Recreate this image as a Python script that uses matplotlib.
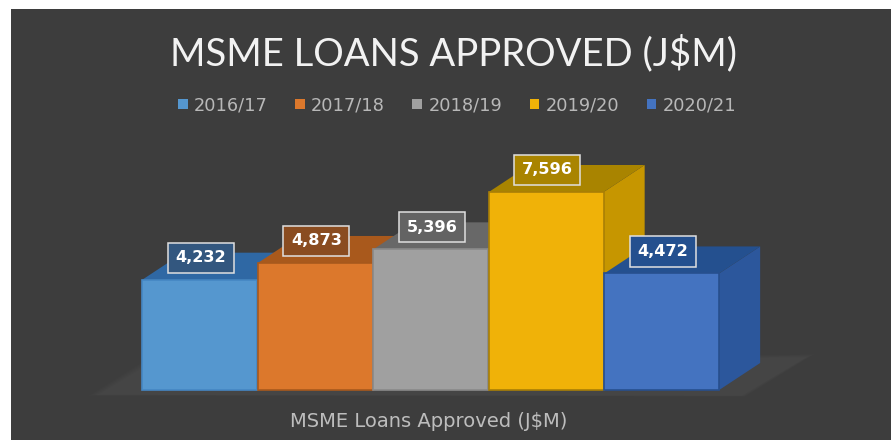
import matplotlib
matplotlib.use("Agg")
import matplotlib.pyplot as plt
from matplotlib.patches import Polygon, Rectangle

categories = ["2016/17", "2017/18", "2018/19", "2019/20", "2020/21"]
values = [4232, 4873, 5396, 7596, 4472]
value_labels = ["4,232", "4,873", "5,396", "7,596", "4,472"]
front_colors = ["#5597CF", "#DC782C", "#A0A0A0", "#F0B208", "#4473C0"]
top_colors = ["#2F68A4", "#A9591C", "#686868", "#A98400", "#24508F"]
side_colors = ["#3A76B4", "#B5631F", "#767676", "#C69600", "#2C579C"]
edge_colors = ["#4587C4", "#A8591D", "#8A8A8A", "#A97F06", "#274F8E"]
box_colors = ["#33577F", "#8A4C20", "#636363", "#A98400", "#24508F"]
title = "MSME LOANS APPROVED (J$M)"
axis_label = "MSME Loans Approved (J$M)"

W, H = 891, 440
PX_X = 115.5
PX_Y = 198 / 7596
X0, Y0 = 199.75, 390
to_x = lambda px: (px - X0) / PX_X
to_y = lambda py: (Y0 - py) / PX_Y
DX = 41 / PX_X
DY = 27 / PX_Y

fig = plt.figure(figsize=(W / 100, H / 100), dpi=100, facecolor="white")
fig.patches.append(Rectangle((11 / W, 0), 1 - 11 / W, 1 - 9 / H, transform=fig.transFigure,
                             facecolor="#3D3D3D", edgecolor="none", zorder=-5))
ax = fig.add_axes([0, 0, 1, 1])
ax.patch.set_alpha(0)
ax.set_xlim(to_x(0), to_x(W))
ax.set_ylim(to_y(H), to_y(0))
ax.axis("off")

# soft floor under the bars
for k in range(30):
    g = k * 1.5
    pts = [(88 + g, 396 - g * .12), (142 + g * .5, 362 + g * .3),
           (815 - g * .8, 354 + g * .3), (745 - g * .3, 397 - g * .12)]
    ax.add_patch(Polygon([(to_x(x), to_y(y)) for x, y in pts], closed=True,
                         facecolor="#9A9A9A", edgecolor="none", alpha=0.012, zorder=0.5))

hw = 0.497
for i, v in enumerate(values):
    z = 1 + i
    ax.add_patch(Polygon([(i + hw, 0), (i + hw + DX, DY), (i + hw + DX, v + DY), (i + hw, v)],
                         closed=True, facecolor=side_colors[i], edgecolor="none", zorder=z))
    ax.add_patch(Polygon([(i - hw, v), (i - hw + DX, v + DY), (i + hw + DX, v + DY), (i + hw, v)],
                         closed=True, facecolor=top_colors[i], edgecolor="none", zorder=z))
    ax.bar(i, v, width=2 * hw, color=front_colors[i], edgecolor=edge_colors[i],
           linewidth=1.2, zorder=z + 0.2, label=categories[i])

for i, v in enumerate(values):
    ax.text(i + 0.01, v + 22 / PX_Y, value_labels[i], ha="center", va="center",
            color="white", fontsize=11.6, fontweight="bold", family="DejaVu Sans", zorder=20,
            bbox=dict(boxstyle="square,pad=0.47", facecolor=box_colors[i],
                      edgecolor="#E0E0E0", linewidth=1.1))

ax.text(to_x(453), to_y(53), title, ha="center", va="center", color="#F2F2F2",
        fontsize=27.5, family="Lato", parse_math=False, zorder=20)
ax.text(to_x(429), to_y(421), axis_label, ha="center", va="center", color="#BDBDBD",
        fontsize=14, family="DejaVu Sans", parse_math=False, zorder=20)

leg = ax.legend(loc="center", bbox_to_anchor=(457 / W, 1 - 105 / H), ncol=5, frameon=False,
                labelcolor="#B8B8B8", handlelength=0.56, handleheight=0.5,
                handletextpad=0.34, columnspacing=1.54, prop={"family": "DejaVu Sans", "size": 12.8})
for h in leg.legend_handles:
    h.set_edgecolor("none")

fig.savefig("out.png", dpi=100, facecolor="white")
